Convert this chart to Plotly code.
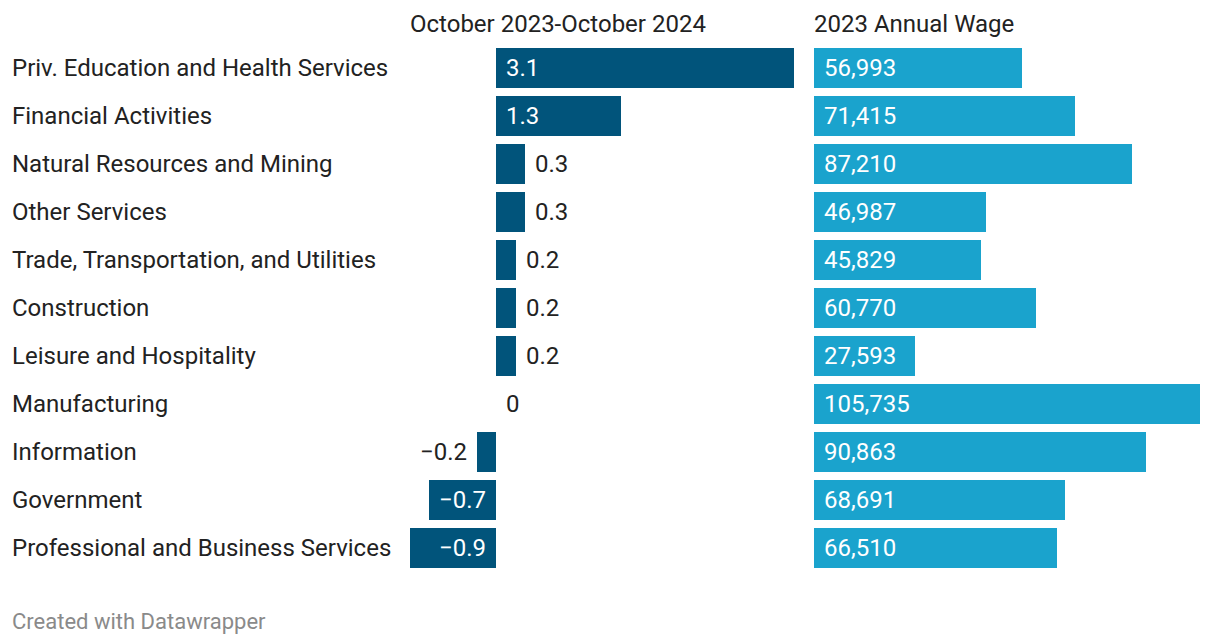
import plotly.graph_objects as go

categories = [
    "Priv. Education and Health Services",
    "Financial Activities",
    "Natural Resources and Mining",
    "Other Services",
    "Trade, Transportation, and Utilities",
    "Construction",
    "Leisure and Hospitality",
    "Manufacturing",
    "Information",
    "Government",
    "Professional and Business Services",
]
change = [3.1, 1.3, 0.3, 0.3, 0.2, 0.2, 0.2, 0.0, -0.2, -0.7, -0.9]
wages = [56993, 71415, 87210, 46987, 45829, 60770, 27593, 105735, 90863, 68691, 66510]

title_change = "October 2023-October 2024"
title_wage = "2023 Annual Wage"
footer = "Created with Datawrapper"

W, H = 1220, 644
DARK = "#01547b"
LIGHT = "#1aa3cd"
TEXT = "#222222"
FONT = "Roboto"
FS = 24

ypos = list(range(len(categories)))

fig = go.Figure()
fig.add_trace(go.Bar(x=change, y=ypos, orientation="h", marker=dict(color=DARK, line=dict(width=0)),
                     width=40/48, xaxis="x", yaxis="y", hoverinfo="skip"))
fig.add_trace(go.Bar(x=wages, y=ypos, orientation="h", marker=dict(color=LIGHT, line=dict(width=0)),
                     width=40/48, xaxis="x2", yaxis="y", hoverinfo="skip"))

ann = []
for i, c in enumerate(categories):
    ann.append(dict(x=10/W, xref="paper", y=i, yref="y", text=c, showarrow=False,
                    xanchor="left", yanchor="middle", font=dict(family=FONT, size=FS, color=TEXT)))

def fmt(v):
    s = f"{abs(v):g}"
    return ("\u2212" + s) if v < 0 else s

for i, v in enumerate(change):
    if abs(v) >= 0.5:
        ann.append(dict(x=0, xref="x", y=i, yref="y", text=fmt(v), showarrow=False,
                        xanchor="left" if v > 0 else "right", xshift=8 if v > 0 else -8,
                        yanchor="middle", font=dict(family=FONT, size=FS, color="white")))
    else:
        ann.append(dict(x=v, xref="x", y=i, yref="y", text=fmt(v), showarrow=False,
                        xanchor="left" if v >= 0 else "right", xshift=8 if v >= 0 else -8,
                        yanchor="middle", font=dict(family=FONT, size=FS, color=TEXT)))

for i, w in enumerate(wages):
    ann.append(dict(x=0, xref="x2", y=i, yref="y", text=f"{w:,}", showarrow=False,
                    xanchor="left", xshift=8, yanchor="middle",
                    font=dict(family=FONT, size=FS, color="white")))

ann.append(dict(x=408/W, xref="paper", y=1-24/H, yref="paper", text=title_change, showarrow=False,
                xanchor="left", yanchor="middle", font=dict(family=FONT, size=FS, color=TEXT)))
ann.append(dict(x=812/W, xref="paper", y=1-24/H, yref="paper", text=title_wage, showarrow=False,
                xanchor="left", yanchor="middle", font=dict(family=FONT, size=FS, color=TEXT)))
ann.append(dict(x=10/W, xref="paper", y=1-621/H, yref="paper", text=footer, showarrow=False,
                xanchor="left", yanchor="middle", font=dict(family=FONT, size=22, color="#8a8a8a")))

fig.update_layout(
    width=W, height=H, margin=dict(l=0, r=0, t=0, b=0),
    paper_bgcolor="white", plot_bgcolor="rgba(0,0,0,0)",
    showlegend=False, bargap=0, annotations=ann,
    xaxis=dict(domain=[410/W, 794/W], range=[-0.9, 3.1], visible=False, fixedrange=True),
    xaxis2=dict(domain=[814/W, 1200/W], range=[0, max(wages)], visible=False, fixedrange=True),
    yaxis=dict(domain=[0, 1], range=[(H-68)/48, -68/48], visible=False, fixedrange=True),
)

fig.write_html("out.html")
